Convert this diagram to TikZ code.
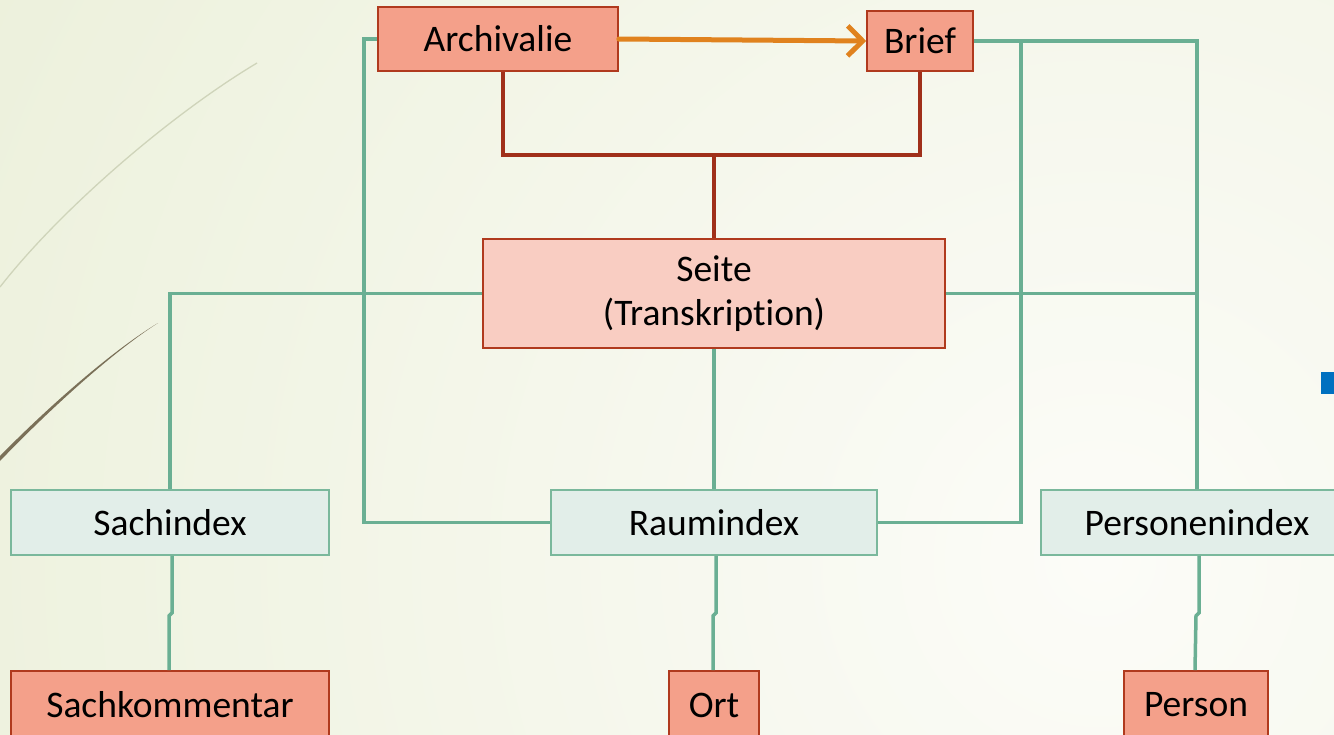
\documentclass[tikz,border=0pt]{standalone}
\usepackage{fontspec}
\setmainfont[Ligatures=NoCommon]{Carlito}
\usetikzlibrary{arrows.meta}
\definecolor{bgout}{HTML}{E3EACB}
\definecolor{bgin}{HTML}{FCFCF8}
\definecolor{salfill}{HTML}{F4A08A}
\definecolor{salline}{HTML}{B03A1E}
\definecolor{seitefill}{HTML}{F9CDC2}
\definecolor{idxfill}{HTML}{E2EEE9}
\definecolor{idxline}{HTML}{7AB89C}
\definecolor{gl}{HTML}{6AAF93}
\definecolor{rl}{HTML}{A0301A}
\definecolor{orl}{HTML}{E0821E}
\definecolor{curvelight}{HTML}{CFD4BA}
\definecolor{curvedark}{HTML}{7A7058}
\definecolor{bluesq}{HTML}{0070C0}
\tikzset{
  salbox/.style={draw=salline, fill=salfill, line width=1.6pt, inner sep=0pt, font=\fontsize{37.5}{44}\selectfont},
  seitebox/.style={draw=salline, fill=seitefill, line width=1.6pt, inner sep=0pt, align=center, font=\fontsize{37.5}{44}\selectfont},
  idxbox/.style={draw=idxline, fill=idxfill, line width=1.6pt, inner sep=0pt, font=\fontsize{37.5}{44}\selectfont},
  gline/.style={draw=gl, line width=3.5pt},
  rline/.style={draw=rl, line width=3.5pt},
}
\begin{document}
\begin{tikzpicture}[x=1pt,y=-1pt]
\useasboundingbox (0,0) rectangle (1334,734);
\clip (0,0) rectangle (1334,734);
\shade[inner color=bgin, outer color=bgout] (1100,560) circle (2000);
% decorative curves
\draw[curvelight, line width=1.3pt] (257,63) .. controls (170,115) and (60,210) .. (0,287);
\fill[curvedark] (158,323) .. controls (110,352) and (45,410) .. (0,456) -- (0,461) .. controls (46,413) and (111,353) .. (158,323) -- cycle;
% blue square
\fill[bluesq] (1321,372) rectangle (1340,394);
% nodes
\node[salbox, minimum width=240pt, minimum height=64pt] (ar) at (498,39) {Archivalie};
\node[salbox, minimum width=106pt, minimum height=60pt] (br) at (920,41) {Brief};
\node[seitebox, minimum width=462pt, minimum height=109pt] (se) at (714,293.5) {Seite\\(Transkription)};
\node[idxbox, minimum width=318pt, minimum height=65pt] (si) at (170,522.5) {Sachindex};
\node[idxbox, minimum width=326pt, minimum height=65pt] (ri) at (714,522.5) {Raumindex};
\node[idxbox, minimum width=312pt, minimum height=65pt] (pi) at (1197,522.5) {Personenindex};
\node[salbox, minimum width=318pt, minimum height=68pt] (sk) at (170,705) {Sachkommentar};
\node[salbox, minimum width=90pt, minimum height=68pt] (ort) at (714,705) {Ort};
\node[salbox, minimum width=144pt, minimum height=68pt] (pe) at (1196,705) {Person};
\coordinate (rm) at (714,155);
\coordinate (bj) at (1021,41);
% red connectors
\draw[rline] ([xshift=5pt]ar.south) |- (rm) -| (br.south);
\draw[rline] (se.north) -- (rm);
% orange arrow
\draw[orl, line width=5pt, line cap=round, -{Straight Barb[length=15pt,width=30pt]}] (ar.east) -- (br.west);
% green connectors
\draw[gline] (ar.west) -- ++(-13,0) |- (ri.west);
\draw[gline] (br.east) -| (pi.north);
\draw[gline] (bj) |- (ri.east);
\draw[gline] (se.west) -| (si.north);
\draw[gline] (se.east) -- (se.east -| pi.north);
\draw[gline] (se.south) -- (ri.north);
\draw[gline] ([xshift=2pt]si.south) -- ++(0,57) -- ++(-3,3) -- ([xshift=-1pt]sk.north);
\draw[gline] ([xshift=2pt]ri.south) -- ++(0,57) -- ++(-3,3) -- ([xshift=-1pt]ort.north);
\draw[gline] ([xshift=2pt]pi.south) -- ++(0,57) -- ++(-3,3) -- ([xshift=-1pt]pe.north);
\end{tikzpicture}
\end{document}
